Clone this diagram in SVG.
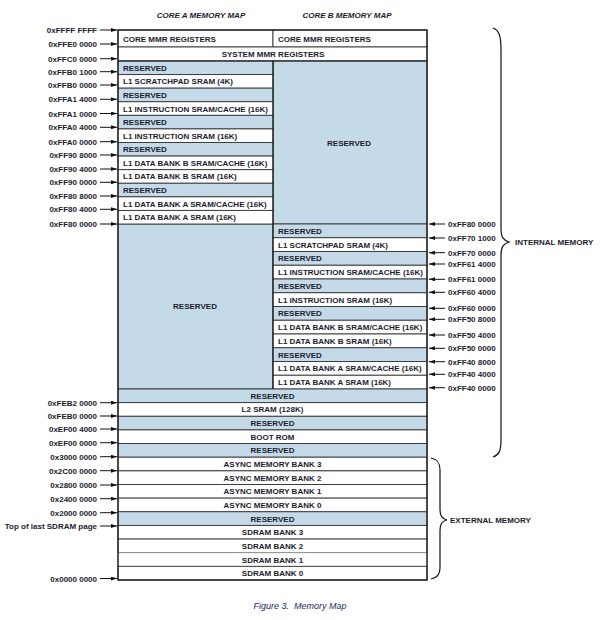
<svg xmlns="http://www.w3.org/2000/svg" width="607" height="620" viewBox="0 0 607 620">
<style>
.res{fill:#c5dae9;stroke:#333;stroke-width:0.9}
.mem{fill:#fff;stroke:#333;stroke-width:0.9}
.t{font-family:"Liberation Sans",Arial,sans-serif;font-size:8px;font-weight:bold;fill:#1c1c2e}
.c{text-anchor:middle}
.e{text-anchor:end}
.h{font-family:"Liberation Sans",Arial,sans-serif;font-size:8px;font-weight:bold;font-style:italic;fill:#1c1c2e;text-anchor:middle}
.cap{font-family:"Liberation Sans",Arial,sans-serif;font-size:9px;font-style:italic;fill:#1a2a5a;text-anchor:middle}
.ar{stroke:#111;stroke-width:1;fill:none}
.br{stroke:#111;stroke-width:1.2;fill:none}
</style>
<defs>
<marker id="ah" viewBox="0 0 6 4" refX="6" refY="2" markerWidth="6" markerHeight="4" markerUnits="userSpaceOnUse" orient="auto">
<path d="M0,0 L6,2 L0,4 z" fill="#111"/>
</marker>
</defs>
<rect width="607" height="620" fill="#fff"/>
<text class="h" x="201" y="18">CORE A MEMORY MAP</text>
<text class="h" x="347" y="18">CORE B MEMORY MAP</text>

<g id="core-a-mmr"><rect class="mem" x="118" y="30" width="155" height="17"/><text class="t" x="123" y="42">CORE MMR REGISTERS</text></g>
<g id="core-b-mmr"><rect class="mem" x="273" y="30" width="154" height="17"/><text class="t" x="278" y="42">CORE MMR REGISTERS</text></g>
<g id="system-mmr"><rect class="mem" x="118" y="47" width="309" height="14"/><text class="t c" x="273" y="57">SYSTEM MMR REGISTERS</text></g>

<g id="b-reserved-big"><rect class="res" x="273" y="61" width="154" height="163"/><text class="t c" x="349" y="146">RESERVED</text></g>
<g id="a-reserved-big"><rect class="res" x="118" y="224" width="155" height="165"/><text class="t c" x="195" y="309">RESERVED</text></g>

<g id="a-res-1"><rect class="res" x="118" y="61" width="155" height="13.58"/><text class="t" x="123" y="70.7">RESERVED</text></g>
<g id="a-scratch"><rect class="mem" x="118" y="74.58" width="155" height="13.58"/><text class="t" x="123" y="84.3">L1 SCRATCHPAD SRAM (4K)</text></g>
<g id="a-res-2"><rect class="res" x="118" y="88.17" width="155" height="13.58"/><text class="t" x="123" y="97.9">RESERVED</text></g>
<g id="a-inst-cache"><rect class="mem" x="118" y="101.75" width="155" height="13.58"/><text class="t" x="123" y="111.5">L1 INSTRUCTION SRAM/CACHE (16K)</text></g>
<g id="a-res-3"><rect class="res" x="118" y="115.33" width="155" height="13.58"/><text class="t" x="123" y="125">RESERVED</text></g>
<g id="a-inst"><rect class="mem" x="118" y="128.92" width="155" height="13.58"/><text class="t" x="123" y="138.6">L1 INSTRUCTION SRAM (16K)</text></g>
<g id="a-res-4"><rect class="res" x="118" y="142.5" width="155" height="13.58"/><text class="t" x="123" y="152.2">RESERVED</text></g>
<g id="a-dbb-cache"><rect class="mem" x="118" y="156.08" width="155" height="13.58"/><text class="t" x="123" y="165.8">L1 DATA BANK B SRAM/CACHE (16K)</text></g>
<g id="a-dbb"><rect class="mem" x="118" y="169.67" width="155" height="13.58"/><text class="t" x="123" y="179.4">L1 DATA BANK B SRAM (16K)</text></g>
<g id="a-res-5"><rect class="res" x="118" y="183.25" width="155" height="13.58"/><text class="t" x="123" y="193">RESERVED</text></g>
<g id="a-dba-cache"><rect class="mem" x="118" y="196.83" width="155" height="13.58"/><text class="t" x="123" y="206.5">L1 DATA BANK A SRAM/CACHE (16K)</text></g>
<g id="a-dba"><rect class="mem" x="118" y="210.42" width="155" height="13.58"/><text class="t" x="123" y="220.1">L1 DATA BANK A SRAM (16K)</text></g>

<g id="b-res-1"><rect class="res" x="273" y="224" width="154" height="13.75"/><text class="t" x="278" y="233.8">RESERVED</text></g>
<g id="b-scratch"><rect class="mem" x="273" y="237.75" width="154" height="13.75"/><text class="t" x="278" y="247.6">L1 SCRATCHPAD SRAM (4K)</text></g>
<g id="b-res-2"><rect class="res" x="273" y="251.5" width="154" height="13.75"/><text class="t" x="278" y="261.3">RESERVED</text></g>
<g id="b-inst-cache"><rect class="mem" x="273" y="265.25" width="154" height="13.75"/><text class="t" x="278" y="275.1">L1 INSTRUCTION SRAM/CACHE (16K)</text></g>
<g id="b-res-3"><rect class="res" x="273" y="279" width="154" height="13.75"/><text class="t" x="278" y="288.8">RESERVED</text></g>
<g id="b-inst"><rect class="mem" x="273" y="292.75" width="154" height="13.75"/><text class="t" x="278" y="302.6">L1 INSTRUCTION SRAM (16K)</text></g>
<g id="b-res-4"><rect class="res" x="273" y="306.5" width="154" height="13.75"/><text class="t" x="278" y="316.3">RESERVED</text></g>
<g id="b-dbb-cache"><rect class="mem" x="273" y="320.25" width="154" height="13.75"/><text class="t" x="278" y="330.1">L1 DATA BANK B SRAM/CACHE (16K)</text></g>
<g id="b-dbb"><rect class="mem" x="273" y="334" width="154" height="13.75"/><text class="t" x="278" y="343.8">L1 DATA BANK B SRAM (16K)</text></g>
<g id="b-res-5"><rect class="res" x="273" y="347.75" width="154" height="13.75"/><text class="t" x="278" y="357.6">RESERVED</text></g>
<g id="b-dba-cache"><rect class="mem" x="273" y="361.5" width="154" height="13.75"/><text class="t" x="278" y="371.3">L1 DATA BANK A SRAM/CACHE (16K)</text></g>
<g id="b-dba"><rect class="mem" x="273" y="375.25" width="154" height="13.75"/><text class="t" x="278" y="385.1">L1 DATA BANK A SRAM (16K)</text></g>

<g id="res-l2"><rect class="res" x="118" y="389" width="309" height="13.64"/><text class="t c" x="272.5" y="398.8">RESERVED</text></g>
<g id="l2-sram"><rect class="mem" x="118" y="402.64" width="309" height="13.64"/><text class="t c" x="272.5" y="412.4">L2 SRAM (128K)</text></g>
<g id="res-boot"><rect class="res" x="118" y="416.29" width="309" height="13.64"/><text class="t c" x="272.5" y="426.1">RESERVED</text></g>
<g id="boot-rom"><rect class="mem" x="118" y="429.93" width="309" height="13.64"/><text class="t c" x="272.5" y="439.7">BOOT ROM</text></g>
<g id="res-async"><rect class="res" x="118" y="443.57" width="309" height="13.64"/><text class="t c" x="272.5" y="453.4">RESERVED</text></g>
<g id="async-3"><rect class="mem" x="118" y="457.21" width="309" height="13.64"/><text class="t c" x="272.5" y="467">ASYNC MEMORY BANK 3</text></g>
<g id="async-2"><rect class="mem" x="118" y="470.86" width="309" height="13.64"/><text class="t c" x="272.5" y="480.6">ASYNC MEMORY BANK 2</text></g>
<g id="async-1"><rect class="mem" x="118" y="484.5" width="309" height="13.64"/><text class="t c" x="272.5" y="494.3">ASYNC MEMORY BANK 1</text></g>
<g id="async-0"><rect class="mem" x="118" y="498.14" width="309" height="13.64"/><text class="t c" x="272.5" y="507.9">ASYNC MEMORY BANK 0</text></g>
<g id="res-sdram"><rect class="res" x="118" y="511.79" width="309" height="13.64"/><text class="t c" x="272.5" y="521.6">RESERVED</text></g>
<g id="sdram-3"><rect class="mem" x="118" y="525.43" width="309" height="13.64"/><text class="t c" x="272.5" y="535.2">SDRAM BANK 3</text></g>
<g id="sdram-2"><rect class="mem" x="118" y="539.07" width="309" height="13.64"/><text class="t c" x="272.5" y="548.9">SDRAM BANK 2</text></g>
<g id="sdram-1"><rect class="mem" x="118" y="552.71" width="309" height="13.64" style="stroke:#999"/><text class="t c" x="272.5" y="562.5">SDRAM BANK 1</text></g>
<g id="sdram-0"><rect class="mem" x="118" y="566.36" width="309" height="13.64"/><text class="t c" x="272.5" y="576.1">SDRAM BANK 0</text></g>

<rect x="118" y="30" width="309" height="550" fill="none" stroke="#222" stroke-width="1.4"/>
<line x1="273" y1="61" x2="273" y2="389" stroke="#222" stroke-width="1.2"/>
<line x1="118" y1="61" x2="427" y2="61" stroke="#222" stroke-width="1.2"/>

<g id="connectors">
<g class="ar" marker-end="url(#ah)">
<line x1="100" y1="30" x2="117" y2="30"/>
<line x1="100" y1="44" x2="117" y2="44"/>
<line x1="100" y1="58.7" x2="117" y2="58.7"/>
<line x1="100" y1="71.7" x2="117" y2="71.7"/>
<line x1="100" y1="85" x2="117" y2="85"/>
<line x1="100" y1="99.3" x2="117" y2="99.3"/>
<line x1="100" y1="113.5" x2="117" y2="113.5"/>
<line x1="100" y1="127.3" x2="117" y2="127.3"/>
<line x1="100" y1="141.7" x2="117" y2="141.7"/>
<line x1="100" y1="155" x2="117" y2="155"/>
<line x1="100" y1="169" x2="117" y2="169"/>
<line x1="100" y1="182.3" x2="117" y2="182.3"/>
<line x1="100" y1="196" x2="117" y2="196"/>
<line x1="100" y1="209.3" x2="117" y2="209.3"/>
<line x1="100" y1="224" x2="117" y2="224"/>
<line x1="100" y1="402.7" x2="117" y2="402.7"/>
<line x1="100" y1="416" x2="117" y2="416"/>
<line x1="100" y1="429" x2="117" y2="429"/>
<line x1="100" y1="442.7" x2="117" y2="442.7"/>
<line x1="100" y1="456.7" x2="117" y2="456.7"/>
<line x1="100" y1="470.7" x2="117" y2="470.7"/>
<line x1="100" y1="485" x2="117" y2="485"/>
<line x1="100" y1="498.7" x2="117" y2="498.7"/>
<line x1="100" y1="512.7" x2="117" y2="512.7"/>
<line x1="100" y1="526" x2="117" y2="526"/>
<line x1="100" y1="578.5" x2="117" y2="578.5"/>
<line x1="445" y1="224" x2="429" y2="224"/>
<line x1="445" y1="238" x2="429" y2="238"/>
<line x1="445" y1="252.7" x2="429" y2="252.7"/>
<line x1="445" y1="264" x2="429" y2="264"/>
<line x1="445" y1="279.3" x2="429" y2="279.3"/>
<line x1="445" y1="292.3" x2="429" y2="292.3"/>
<line x1="445" y1="308.3" x2="429" y2="308.3"/>
<line x1="445" y1="319.3" x2="429" y2="319.3"/>
<line x1="445" y1="335" x2="429" y2="335"/>
<line x1="445" y1="348.3" x2="429" y2="348.3"/>
<line x1="445" y1="361.7" x2="429" y2="361.7"/>
<line x1="445" y1="374.3" x2="429" y2="374.3"/>
<line x1="445" y1="387.7" x2="429" y2="387.7"/>
</g>
<path class="br" d="M493,28 C499,30 501,36 501,50 L501,228 C501,237 503,240 509,242 C503,244 501,247 501,256 L501,440 C501,451 499,455 493,457"/>
<path class="br" d="M431,458 C437,459 440,462 440,470 L440,510 C440,516 442,519 447,520 C442,521 440,524 440,530 L440,568 C440,575 437,578 431,579"/>
</g>

<g id="addr-left">
<text class="t e" x="97" y="33">0xFFFF FFFF</text>
<text class="t e" x="97" y="47">0xFFE0 0000</text>
<text class="t e" x="97" y="61.7">0xFFC0 0000</text>
<text class="t e" x="97" y="74.7">0xFFB0 1000</text>
<text class="t e" x="97" y="88">0xFFB0 0000</text>
<text class="t e" x="97" y="102.3">0xFFA1 4000</text>
<text class="t e" x="97" y="116.5">0xFFA1 0000</text>
<text class="t e" x="97" y="130.3">0xFFA0 4000</text>
<text class="t e" x="97" y="144.7">0xFFA0 0000</text>
<text class="t e" x="97" y="158">0xFF90 8000</text>
<text class="t e" x="97" y="172">0xFF90 4000</text>
<text class="t e" x="97" y="185.3">0xFF90 0000</text>
<text class="t e" x="97" y="199">0xFF80 8000</text>
<text class="t e" x="97" y="212.3">0xFF80 4000</text>
<text class="t e" x="97" y="227">0xFF80 0000</text>
<text class="t e" x="97" y="405.7">0xFEB2 0000</text>
<text class="t e" x="97" y="419">0xFEB0 0000</text>
<text class="t e" x="97" y="432">0xEF00 4000</text>
<text class="t e" x="97" y="445.7">0xEF00 0000</text>
<text class="t e" x="97" y="459.7">0x3000 0000</text>
<text class="t e" x="97" y="473.7">0x2C00 0000</text>
<text class="t e" x="97" y="488">0x2800 0000</text>
<text class="t e" x="97" y="501.7">0x2400 0000</text>
<text class="t e" x="97" y="515.7">0x2000 0000</text>
<text class="t e" x="97" y="529">Top of last SDRAM page</text>
<text class="t e" x="97" y="581.5">0x0000 0000</text>
</g>
<g id="addr-right">
<text class="t" x="448" y="227">0xFF80 0000</text>
<text class="t" x="448" y="241">0xFF70 1000</text>
<text class="t" x="448" y="255.7">0xFF70 0000</text>
<text class="t" x="448" y="267">0xFF61 4000</text>
<text class="t" x="448" y="282.3">0xFF61 0000</text>
<text class="t" x="448" y="295.3">0xFF60 4000</text>
<text class="t" x="448" y="311.3">0xFF60 0000</text>
<text class="t" x="448" y="322.3">0xFF50 8000</text>
<text class="t" x="448" y="338">0xFF50 4000</text>
<text class="t" x="448" y="351.3">0xFF50 0000</text>
<text class="t" x="448" y="364.7">0xFF40 8000</text>
<text class="t" x="448" y="377.3">0xFF40 4000</text>
<text class="t" x="448" y="390.7">0xFF40 0000</text>
</g>
<g id="internal-memory"><text class="t" x="515" y="245">INTERNAL MEMORY</text></g>
<g id="external-memory"><text class="t" x="450" y="523">EXTERNAL MEMORY</text></g>
<text class="cap" x="300" y="609" xml:space="preserve">Figure 3.  Memory Map</text>
</svg>
